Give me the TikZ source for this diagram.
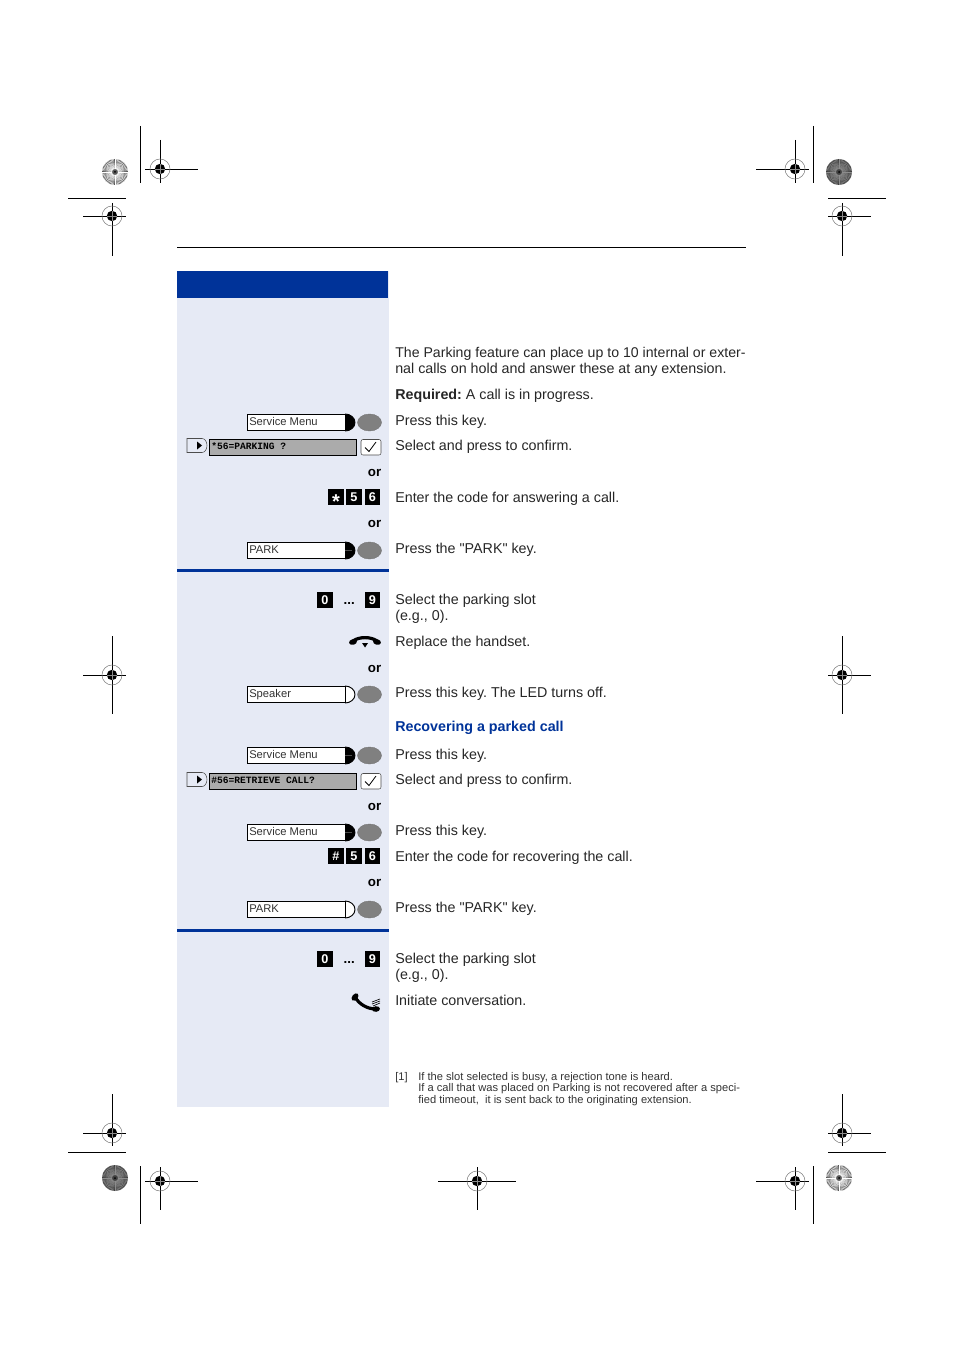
\documentclass[tikz,border=0pt]{standalone}
\usepackage{fontspec}
\setmainfont{Liberation Sans}[Ligatures=TeXOff]
\setmonofont{Liberation Mono}
\frenchspacing
\definecolor{panelblue}{HTML}{E6EAF5}
\definecolor{headblue}{HTML}{003399}
\definecolor{keygray}{HTML}{808080}
\definecolor{dispgray}{HTML}{ABABAB}
\tikzset{
  bodytext/.style={anchor=base west, inner sep=0pt, font=\fontsize{10.72}{12}\selectfont, text=black!85},
  notetext/.style={anchor=base west, inner sep=0pt, font=\fontsize{8.35}{9}\selectfont, text=black!80},
  ortext/.style={anchor=base east, inner sep=0pt, font=\fontsize{10}{12}\selectfont\bfseries},
  keylabel/.style={anchor=base west, inner sep=0pt, font=\fontsize{8.4}{9}\selectfont, text=black!80},
  displabel/.style={anchor=base west, inner sep=0pt, font=\ttfamily\bfseries\fontsize{7.2}{8}\selectfont},
  softbox/.style={draw, fill=white, line width=.7pt, minimum width=73.5pt, minimum height=12.5pt, inner sep=0pt, anchor=west},
  dispbox/.style={draw, fill=dispgray, line width=.7pt, minimum width=110.5pt, minimum height=12.5pt, inner sep=0pt, anchor=west},
  digitkey/.style={fill=black, text=white, minimum width=11.5pt, minimum height=11.5pt, inner sep=0pt, font=\fontsize{9.5}{10}\selectfont\bfseries},
}
\newcommand{\regmark}[7]{
  \draw[line width=.7pt] (#2,#3) ++(-#4,0) -- ++(#4+#5,0);
  \draw[line width=.7pt] (#2,#3) ++(0,-#6) -- ++(0,#6+#7);
  \draw[black!50, line width=.4pt] (#2,#3) circle[radius=10];
  \fill (#2,#3) circle[radius=5.2];
  \coordinate (#1) at (#2,#3);
  \draw[black!45, line width=.25pt] (#2-5,#3) -- (#2+5,#3) (#2,#3-5) -- (#2,#3+5);
}
\newcommand{\sunburst}[5]{
  \fill[#4] (#2,#3) circle[radius=13];
  \foreach \a in {0,6,...,354}
    \draw[#5, line width=.3pt] (#2,#3) ++(\a:3) -- ++(\a:10);
  \fill (#2,#3) circle[radius=1];
  \coordinate (#1) at (#2,#3);
}
% key row: name, y, label, fill of the lamp
\newcommand{\softkey}[4]{
  \draw[#4, line width=.7pt] (345,#2-8.5) arc[start angle=-90, end angle=90, x radius=10, y radius=8.5];
  \node[softbox] (#1) at (247,#2) {};
  \node[keylabel] (#1text) at (249,#2+3) {#3};
  \fill[keygray, draw=black!55, line width=.3pt] (369.5,#2) ellipse[x radius=12, y radius=8.5];
}
\newcommand{\dispkey}[3]{
  \draw[line width=.4pt, black!70, fill=panelblue] (187,#2-9) -- (202,#2-9) arc[start angle=-90, end angle=90, x radius=5, y radius=7] -- (187,#2+5) -- cycle;
  \fill (197,#2-6) -- (202,#2-2) -- (197,#2+2) -- cycle;
  \node[dispbox] (#1) at (209,#2) {};
  \node[displabel] (#1text) at (211,#2+2) {#3};
  \draw[line width=.4pt, black!70, fill=white, rounded corners=1.5pt] (361,#2-8) rectangle (381,#2+7.5);
  \draw[line width=.6pt] (365,#2) -- (369,#2+4) -- (376,#2-5.5);
}
\newcommand{\bodyline}[3]{\node[bodytext] (#1) at (395,#2) {#3};}

\begin{document}
\begin{tikzpicture}[x=.75pt, y=-.75pt]
  \useasboundingbox (0,0) rectangle (954,1351);
  \draw[line width=.6pt] (177,247) -- (746,247);
  \fill[panelblue] (176.5,271) rectangle (389,1107);
  \fill[headblue] (177,271) rectangle (388,298);
  \fill[headblue] (177,569) rectangle (389,572);
  \fill[headblue] (177,929) rectangle (389,932);

  \regmark{marktl}{160}{169}{15}{38}{29}{14}
  \regmark{marktlb}{112}{216}{29}{14}{13}{40}
  \regmark{marktr}{795}{169}{39}{14}{29}{14}
  \regmark{marktrb}{842}{216}{14}{29}{13}{40}
  \regmark{markml}{112}{675}{29}{14}{39}{39}
  \regmark{markmr}{842}{675}{14}{29}{39}{39}
  \regmark{markbl}{112}{1133}{29}{14}{39}{13}
  \regmark{markblb}{160}{1181}{15}{38}{14}{29}
  \regmark{markbc}{477}{1181}{39}{39}{14}{29}
  \regmark{markbr}{842}{1133}{14}{29}{39}{13}
  \regmark{markbrb}{795}{1181}{39}{14}{14}{29}
  \sunburst{suntl}{115}{172}{black!65}{white}
  \sunburst{suntr}{839}{172}{black!75}{black!45}
  \sunburst{sunbl}{115}{1178}{black!75}{black!45}
  \sunburst{sunbr}{839}{1178}{black!65}{white}
  \draw[line width=.7pt]
    (140,126) -- (140,183) (68,198) -- (126,198)
    (813,126) -- (813,183) (828,198) -- (886,198)
    (68,1152) -- (126,1152) (140,1166) -- (140,1224)
    (828,1152) -- (886,1152) (813,1166) -- (813,1224);

  \softkey{svcone}{422.5}{Service Menu}{fill=black}
  \dispkey{parkdisp}{447.5}{*56=PARKING ?}
  \node[ortext] (orone) at (381.5,476) {or};
  \foreach \x/\t/\n in {336/\smash{\raisebox{-8.9pt}{\fontsize{15}{15}\selectfont *}}/stara, 354/5/fivea, 372.5/6/sixa}
    \node[digitkey] (\n) at (\x,497) {\t};
  \node[ortext] (ortwo) at (381.5,527) {or};
  \softkey{parkone}{550.5}{PARK}{fill=black}
  \draw[black!70, line width=.3pt] (345,550.5) -- (352,550.5);

  \foreach \x/\t/\n in {325/0/zeroa, 372.5/9/ninea}
    \node[digitkey] (\n) at (\x,600) {\t};
  \node[ortext] (dotsa) at (355,604) {...};
  % handset down
  \draw[line width=2.4pt] (353,641) .. controls (359,636.5) and (371,636.5) .. (377,641);
  \fill[rotate around={12:(353,642)}] (353,642) ellipse[x radius=4, y radius=2.8];
  \fill[rotate around={-12:(377,642)}] (377,642) ellipse[x radius=4, y radius=2.8];
  \fill (362,643) -- (368,643) -- (365,647.5) -- cycle;
  \node[ortext] (orthree) at (381.5,672) {or};
  \softkey{speaker}{694.5}{Speaker}{fill=white}

  \softkey{svctwo}{755.5}{Service Menu}{fill=black}
  \draw[black!70, line width=.3pt] (345,755.5) -- (352,755.5);
  \dispkey{retrdisp}{781.5}{\#56=RETRIEVE CALL?}
  \node[ortext] (orfour) at (381.5,810) {or};
  \softkey{svcthree}{832.5}{Service Menu}{fill=black}
  \draw[black!70, line width=.3pt] (345,832.5) -- (352,832.5);
  \foreach \x/\t/\n in {336/\#/hashb, 354/5/fiveb, 372.5/6/sixb}
    \node[digitkey] (\n) at (\x,856) {\t};
  \node[ortext] (orfive) at (381.5,886) {or};
  \softkey{parktwo}{909.5}{PARK}{fill=white}

  \foreach \x/\t/\n in {325/0/zerob, 372.5/9/nineb}
    \node[digitkey] (\n) at (\x,959) {\t};
  \node[ortext] (dotsb) at (355,963) {...};
  % handset up
  \draw[line width=2.4pt] (355,997) .. controls (359,1004) and (367,1009) .. (376,1009);
  \fill[rotate around={50:(355,997)}] (355,997) ellipse[x radius=4.2, y radius=2.8];
  \fill[rotate around={5:(376,1009)}] (376,1009) ellipse[x radius=4, y radius=2.8];
  \draw[line width=.5pt] (372,1004) -- (380,1001) (372,1002) -- (380,999) (373,1006) -- (380,1003);

  \node[bodytext, font=\fontsize{10.6}{12}\selectfont] (introa) at (395,357.5) {The Parking feature can place up to 10 internal or exter-};
  \bodyline{introb}{373.5}{nal calls on hold and answer these at any extension.}
  \bodyline{required}{399}{\textbf{Required:} A call is in progress.}
  \bodyline{pressa}{425}{Press this key.}
  \bodyline{selecta}{450}{Select and press to confirm.}
  \bodyline{entera}{502}{Enter the code for answering a call.}
  \bodyline{pressb}{553}{Press the "PARK" key.}
  \bodyline{slota}{604}{Select the parking slot}
  \bodyline{slotb}{620}{(e.g., 0).}
  \bodyline{replace}{646}{Replace the handset.}
  \bodyline{pressc}{697}{Press this key. The LED turns off.}
  \node[bodytext, text=headblue, font=\fontsize{10.72}{12}\selectfont\bfseries] (recover) at (395,731) {Recovering a parked call};
  \bodyline{pressd}{759}{Press this key.}
  \bodyline{selectb}{784}{Select and press to confirm.}
  \bodyline{presse}{835}{Press this key.}
  \bodyline{enterb}{861}{Enter the code for recovering the call.}
  \bodyline{pressf}{912}{Press the "PARK" key.}
  \bodyline{slotc}{963}{Select the parking slot}
  \bodyline{slotd}{979}{(e.g., 0).}
  \bodyline{initiate}{1005}{Initiate conversation.}

  \node[notetext] (noteno) at (395,1080) {[1]};
  \node[notetext] (notea) at (418,1080) {If the slot selected is busy, a rejection tone is heard.};
  \node[notetext] (noteb) at (418,1091.5) {If a call that was placed on Parking is not recovered after a speci-};
  \node[notetext] (notec) at (418,1103) {fied timeout,\ \ it is sent back to the originating extension.};
\end{tikzpicture}
\end{document}
